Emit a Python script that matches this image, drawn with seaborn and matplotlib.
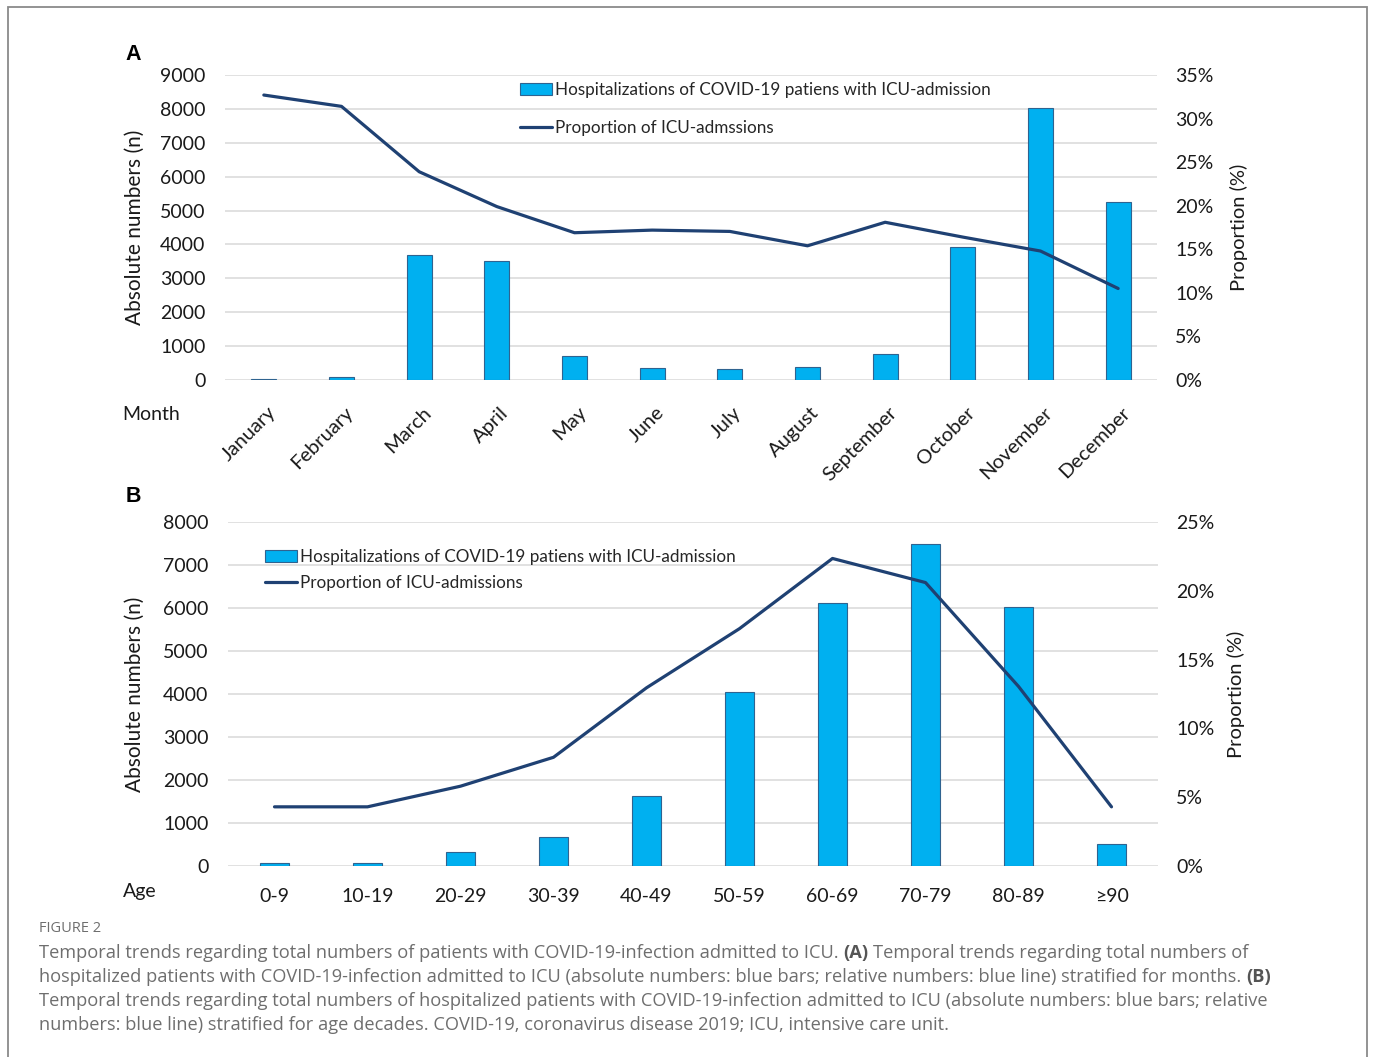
import numpy as np
import pandas as pd
import matplotlib
matplotlib.use("Agg")
import matplotlib.pyplot as plt
import matplotlib.transforms as mtransforms
from matplotlib import font_manager
from matplotlib.patches import Patch, Rectangle
from matplotlib.lines import Line2D
from matplotlib.ticker import FuncFormatter
import seaborn as sns

# ---------------- data ----------------
months = ["January", "February", "March", "April", "May", "June", "July",
          "August", "September", "October", "November", "December"]
month_icu_counts = [40, 100, 3690, 3520, 710, 345, 335, 375, 755, 3915, 8030, 5265]
month_icu_share = [32.7, 31.4, 23.9, 19.9, 16.9, 17.2, 17.05, 15.4, 18.1, 16.4, 14.8, 10.5]

age_groups = ["0-9", "10-19", "20-29", "30-39", "40-49", "50-59",
              "60-69", "70-79", "80-89", "≥90"]
age_icu_counts = [75, 75, 330, 680, 1630, 4035, 6125, 7500, 6020, 510]
age_icu_share = [4.3, 4.3, 5.8, 7.9, 12.95, 17.25, 22.35, 20.6, 13.05, 4.3]

bar_label = "Hospitalizations of COVID-19 patiens with ICU-admission"
line_label_a = "Proportion of ICU-admssions"
line_label_b = "Proportion of ICU-admissions"
y_label_left = "Absolute numbers (n)"
y_label_right = "Proportion (%)"

caption_title = "FIGURE 2"
# each caption line: list of (text, bold) segments
caption_lines = [
    [("Temporal trends regarding total numbers of patients with COVID-19-infection admitted to ICU.", False),
     ("(A)", True),
     ("Temporal trends regarding total numbers of", False)],
    [("hospitalized patients with COVID-19-infection admitted to ICU (absolute numbers: blue bars; relative numbers: blue line) stratified for months.", False),
     ("(B)", True)],
    [("Temporal trends regarding total numbers of hospitalized patients with COVID-19-infection admitted to ICU (absolute numbers: blue bars; relative", False)],
    [("numbers: blue line) stratified for age decades. COVID-19, coronavirus disease 2019; ICU, intensive care unit.", False)],
]

# ---------------- style ----------------
BAR = "#00B0F0"
EDGE = "#2F6390"
LINE = "#1F4173"
GRID = "#D9D9D9"
TXT = "#1a1a1a"
CAP = "#6e6e6e"


def pick_caption_font():
    for fam in ["Noto Sans", "Open Sans", "Lato", "Liberation Sans", "DejaVu Sans"]:
        try:
            reg = font_manager.findfont(font_manager.FontProperties(family=fam),
                                        fallback_to_default=False)
            bold = font_manager.findfont(font_manager.FontProperties(family=fam, weight="bold"),
                                         fallback_to_default=False)
        except Exception:
            continue
        if reg != bold:
            return fam
    return "DejaVu Sans"


CAPFAM = pick_caption_font()
CAPFONT = [CAPFAM, "DejaVu Sans"]

sns.set_style("white")
plt.rcParams["font.family"] = ["Lato", "DejaVu Sans"]

W, H = 1373, 1057
fig = plt.figure(figsize=(W / 100, H / 100), dpi=100)


def fx(p):
    return p / W


def fy(p):
    return 1 - p / H


def panel(rect, cats, counts, shares, ymax, ystep, pmax, line_label,
          leg_xy, leg_spacing, word, word_xy, letter, letter_xy, rotate,
          lab_left_x, lab_right_x):
    ax = fig.add_axes(rect)
    sns.barplot(x=cats, y=counts, ax=ax, color=BAR, saturation=1, width=0.32,
                edgecolor=EDGE, linewidth=0.8)
    ax2 = ax.twinx()
    sns.lineplot(x=cats, y=shares, ax=ax2, color=LINE, linewidth=2.3, sort=False)
    n = len(cats)
    ax.set_xlim(-0.5, n - 0.5)
    ax.set_ylim(0, ymax)
    ax.set_yticks(np.arange(0, ymax + 1, ystep))
    ax2.set_ylim(0, pmax)
    ax2.set_yticks(np.arange(0, pmax + 0.1, 5))
    ax2.yaxis.set_major_formatter(FuncFormatter(lambda v, p: f"{v:.0f}%"))
    ax.set_axisbelow(True)
    ax.yaxis.grid(True, color=GRID, linewidth=1.1)
    ax.xaxis.grid(False)
    ax2.grid(False)
    for a in (ax, ax2):
        for s in a.spines.values():
            s.set_visible(False)
    ax.set_xlabel("")
    ax2.set_xlabel("")
    ax.set_ylabel(y_label_left, fontsize=15, color=TXT)
    ax.yaxis.set_label_coords(lab_left_x, 0.5)
    ax2.set_ylabel(y_label_right, fontsize=14.5, color=TXT)
    ax2.yaxis.set_label_coords(lab_right_x, 0.5)
    ax.tick_params(axis="y", length=0, pad=14, labelsize=14, labelcolor=TXT)
    ax2.tick_params(axis="y", length=0, pad=13, labelsize=14, labelcolor=TXT)
    if rotate:
        ax.tick_params(axis="x", length=0, pad=21.5, labelsize=14.5, labelcolor=TXT)
        off = mtransforms.ScaledTranslation(0.09, 0, fig.dpi_scale_trans)
        for lab in ax.get_xticklabels():
            lab.set_rotation(45)
            lab.set_ha("right")
            lab.set_va("center")
            lab.set_rotation_mode("anchor")
            lab.set_transform(lab.get_transform() + off)
    else:
        ax.tick_params(axis="x", length=0, pad=16, labelsize=14, labelcolor=TXT)

    handles = [Patch(facecolor=BAR, edgecolor=EDGE, linewidth=0.8, label=bar_label),
               Line2D([], [], color=LINE, lw=2.3, label=line_label)]
    ax2.legend(handles=handles, loc="upper left",
               bbox_to_anchor=(fx(leg_xy[0]), fy(leg_xy[1])),
               bbox_transform=fig.transFigure, frameon=False, fontsize=12.3,
               handlelength=1.85, handletextpad=0.2, labelspacing=leg_spacing,
               borderpad=0, borderaxespad=0, handleheight=0.7)
    fig.text(fx(word_xy[0]), fy(word_xy[1]), word, ha="left", va="center",
             fontsize=14, color=TXT)
    fig.text(fx(letter_xy[0]), fy(letter_xy[1]), letter, ha="center", va="center",
             fontsize=15.5, fontweight="bold", color="black",
             family=["Liberation Sans", "DejaVu Sans"])
    return ax, ax2


panel([fx(225), fy(380), (1157 - 225) / W, (380 - 75) / H],
      months, month_icu_counts, month_icu_share, 9000, 1000, 35, line_label_a,
      (520, 82), 1.3, "Month", (122, 414), "A", (133, 55), True,
      -0.086, 1.078)

panel([fx(228), fy(866), (1158 - 228) / W, (866 - 522) / H],
      age_groups, age_icu_counts, age_icu_share, 8000, 1000, 25, line_label_b,
      (265, 549), 0.58, "Age", (123, 891), "B", (133, 497), False,
      -0.089, 1.074)

# border frame
fig.patches.append(Rectangle((fx(7.5), -0.05), fx(1367) - fx(7.5), fy(7.5) + 0.05,
                             transform=fig.transFigure, fill=False,
                             edgecolor="#8a8a8a", linewidth=1.3))

# caption
fig.text(fx(39), fy(929), caption_title, ha="left", va="center", fontsize=10.5,
         color=CAP, family=CAPFONT)

renderer = fig.canvas.get_renderer()
probe = fig.text(0, 0, "a a", fontsize=12, family=CAPFONT)
probe2 = fig.text(0, 0, "aa", fontsize=12, family=CAPFONT)
space12 = probe.get_window_extent(renderer).width - probe2.get_window_extent(renderer).width
probe.remove()
probe2.remove()

# fit size so that the first line spans ~1205 px
test = fig.text(0, 0, " ".join(s for s, _ in caption_lines[0]), fontsize=12, family=CAPFONT)
w_test = test.get_window_extent(renderer).width
test.remove()
cap_size = 12 * 1203 / w_test
space = space12 * cap_size / 12

for i, segs in enumerate(caption_lines):
    xpix = 39.0
    ybase = fy(958 + 24 * i)
    for s, bold in segs:
        t = fig.text(fx(xpix), ybase, s, ha="left", va="baseline",
                     fontsize=cap_size, color="#555555" if bold else CAP,
                     fontweight="bold" if bold else "normal", family=CAPFONT)
        ext = t.get_window_extent(renderer)
        xpix = ext.x1 + space

fig.savefig("out.png", dpi=100, facecolor="white")
